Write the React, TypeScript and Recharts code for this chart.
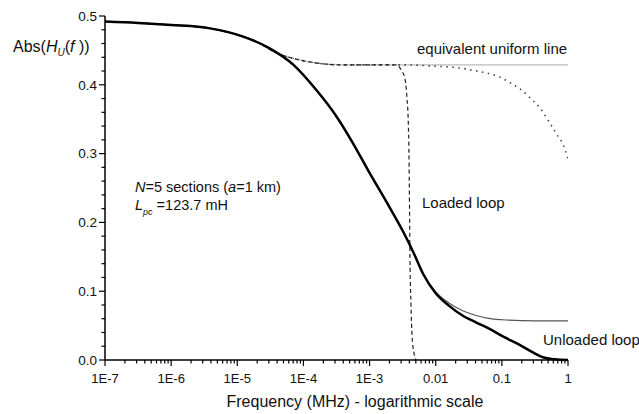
import React from 'react';
import { LineChart, Line, XAxis, YAxis } from 'recharts';

const FONT = '"Liberation Sans", Arial, Helvetica, sans-serif';

// axis ticks
const xMajorTicks = [1e-7, 1e-6, 1e-5, 1e-4, 1e-3, 0.01, 0.1, 1];
const xMajorLabels = ['1E-7', '1E-6', '1E-5', '1E-4', '1E-3', '0.01', '0.1', '1'];
const yMajorTicks = [0, 0.1, 0.2, 0.3, 0.4, 0.5];
const yMajorLabels = ['0.0', '0.1', '0.2', '0.3', '0.4', '0.5'];

// thick solid curve (unloaded loop)
const unloadedFreq = [1e-7, 3.16e-7, 1e-6, 3.89e-6, 1.23e-5, 3.09e-5, 7.08e-5, 1.58e-4, 3.16e-4, 5.62e-4, 1e-3, 1.82e-3, 3.24e-3, 4.57e-3, 6.46e-3, 1e-2, 1.58e-2, 2.51e-2, 3.98e-2, 6.31e-2, 0.105, 0.186, 0.295, 0.417, 0.631, 1];
const unloadedAbs = [0.492, 0.49, 0.487, 0.482, 0.47, 0.453, 0.429, 0.392, 0.354, 0.315, 0.272, 0.229, 0.186, 0.157, 0.125, 0.097, 0.079, 0.065, 0.055, 0.046, 0.034, 0.022, 0.011, 0.004, 0.001, 0.0];

// thin solid curve (equivalent uniform line of the unloaded loop)
const unloadedUniformFreq = [1e-7, 3.16e-7, 1e-6, 3.89e-6, 1.23e-5, 3.09e-5, 7.08e-5, 1.58e-4, 3.16e-4, 5.62e-4, 1e-3, 1.82e-3, 3.24e-3, 4.57e-3, 6.46e-3, 1e-2, 1.58e-2, 2.51e-2, 3.98e-2, 6.31e-2, 0.126, 0.316, 1];
const unloadedUniformAbs = [0.492, 0.49, 0.487, 0.482, 0.47, 0.453, 0.429, 0.392, 0.354, 0.315, 0.272, 0.229, 0.186, 0.157, 0.125, 0.099, 0.083, 0.072, 0.065, 0.0605, 0.058, 0.057, 0.057];

// dashed curve (loaded loop)
const loadedFreq = [1e-7, 3.16e-7, 1e-6, 3.89e-6, 1.23e-5, 1.74e-5, 3.98e-5, 8.91e-5, 1.78e-4, 3.98e-4, 1e-3, 2.4e-3, 2.69e-3, 2.99e-3, 3.44e-3, 3.68e-3, 3.85e-3, 3.94e-3, 4.02e-3, 4.08e-3, 4.23e-3, 4.39e-3, 4.7e-3, 5.04e-3];
const loadedAbs = [0.492, 0.49, 0.487, 0.482, 0.47, 0.465, 0.446, 0.436, 0.431, 0.429, 0.429, 0.429, 0.428, 0.422, 0.408, 0.38, 0.345, 0.3, 0.22, 0.15, 0.08, 0.035, 0.01, 0.0];

// dense dotted curve (equivalent uniform line)
const uniformFreq = [1e-7, 3.16e-7, 1e-6, 3.89e-6, 1.23e-5, 1.74e-5, 3.98e-5, 8.91e-5, 1.78e-4, 3.98e-4, 1e-3, 1e-2, 0.1, 1];
const uniformAbs = [0.492, 0.49, 0.487, 0.482, 0.47, 0.465, 0.446, 0.436, 0.431, 0.429, 0.429, 0.429, 0.429, 0.429];

// sparse dotted curve
const roundedFreq = [1e-7, 3.16e-7, 1e-6, 3.89e-6, 1.23e-5, 1.74e-5, 3.98e-5, 8.91e-5, 1.78e-4, 3.98e-4, 1e-3, 3.16e-3, 1e-2, 2.51e-2, 4.68e-2, 6.62e-2, 9.38e-2, 0.133, 0.188, 0.267, 0.378, 0.535, 0.675, 0.849, 1];
const roundedAbs = [0.492, 0.49, 0.487, 0.482, 0.47, 0.465, 0.446, 0.436, 0.431, 0.429, 0.429, 0.429, 0.427, 0.424, 0.419, 0.416, 0.411, 0.403, 0.394, 0.381, 0.366, 0.344, 0.328, 0.3125, 0.292];

const toPoints = (freq: number[], abs: number[]) => freq.map((f, i) => ({ f, v: abs[i] }));

const xTicks: number[] = [];
xMajorTicks.forEach((t, i) => {
  xTicks.push(t);
  if (i < xMajorTicks.length - 1) {
    for (let m = 2; m <= 9; m++) xTicks.push(t * m);
  }
});

const yTicks: number[] = [];
yMajorTicks.forEach((t, i) => {
  yTicks.push(t);
  if (i < yMajorTicks.length - 1) {
    for (let k = 1; k < 5; k++) yTicks.push(Math.round((t + k * 0.02) * 1000) / 1000);
  }
});

const XTick = (props: any) => {
  const { x, y, payload } = props;
  const idx = xMajorTicks.findIndex((t) => Math.abs(Math.log10(t) - Math.log10(payload.value)) < 1e-6);
  const major = idx >= 0;
  return (
    <g>
      <line x1={x} x2={x} y1={y} y2={y + (major ? 6 : 3.5)} stroke="#000" strokeWidth={1.2} />
      {major && (
        <text x={x} y={y + 22.5} textAnchor="middle" fontSize={13} fontFamily={FONT} fill="#111">
          {xMajorLabels[idx]}
        </text>
      )}
    </g>
  );
};

const YTick = (props: any) => {
  const { x, y, payload } = props;
  const idx = yMajorTicks.findIndex((t) => Math.abs(t - payload.value) < 1e-9);
  const major = idx >= 0;
  return (
    <g>
      <line x1={x} x2={x - (major ? 6 : 3.5)} y1={y} y2={y} stroke="#000" strokeWidth={1.2} />
      {major && (
        <text x={x - 8} y={y + 4.7} textAnchor="end" fontSize={13.5} fontFamily={FONT} fill="#111">
          {yMajorLabels[idx]}
        </text>
      )}
    </g>
  );
};

export default function App() {
  return (
    <div style={{ position: 'absolute', left: 0, top: 0, width: 639, height: 414, background: '#fff' }}>
      <LineChart width={639} height={414} margin={{ top: 16, right: 71, bottom: 0, left: 0 }}>
        <XAxis
          type="number"
          dataKey="f"
          scale="log"
          domain={[1e-7, 1]}
          allowDataOverflow
          ticks={xTicks}
          interval={0}
          tick={<XTick />}
          tickLine={false}
          tickSize={0}
          tickMargin={0}
          height={54}
          axisLine={{ stroke: '#000', strokeWidth: 1.5 }}
        />
        <YAxis
          type="number"
          dataKey="v"
          domain={[0, 0.5]}
          ticks={yTicks}
          interval={0}
          tick={<YTick />}
          tickLine={false}
          tickSize={0}
          tickMargin={0}
          width={105}
          axisLine={{ stroke: '#000', strokeWidth: 1.5 }}
        />
        <Line data={toPoints(uniformFreq, uniformAbs)} dataKey="v" type="monotone" stroke="#777" strokeWidth={1.2} strokeDasharray="1 1" dot={false} isAnimationActive={false} />
        <Line data={toPoints(roundedFreq, roundedAbs)} dataKey="v" type="monotone" stroke="#444" strokeWidth={1.6} strokeDasharray="1.5 4.5" dot={false} isAnimationActive={false} />
        <Line data={toPoints(loadedFreq, loadedAbs)} dataKey="v" type="monotone" stroke="#222" strokeWidth={1.2} strokeDasharray="4 3" dot={false} isAnimationActive={false} />
        <Line data={toPoints(unloadedUniformFreq, unloadedUniformAbs)} dataKey="v" type="monotone" stroke="#555" strokeWidth={1.2} dot={false} isAnimationActive={false} />
        <Line data={toPoints(unloadedFreq, unloadedAbs)} dataKey="v" type="monotone" stroke="#000" strokeWidth={2.5} dot={false} isAnimationActive={false} />
      </LineChart>
      <svg width={639} height={414} style={{ position: 'absolute', left: 0, top: 0, pointerEvents: 'none' }} fontFamily={FONT} fill="#111">
        <text x={13} y={52} fontSize={16}>
          Abs(<tspan fontStyle="italic">H</tspan>
          <tspan fontStyle="italic" fontSize={10} dy={4}>U</tspan>
          <tspan dy={-4}>(</tspan>
          <tspan fontStyle="italic">f</tspan> ))
        </text>
        <text x={355} y={406.5} fontSize={16} textAnchor="middle">Frequency (MHz) - logarithmic scale</text>
        <text x={417} y={53.5} fontSize={15}>equivalent uniform line</text>
        <text x={422} y={208} fontSize={15}>Loaded loop</text>
        <text x={543} y={344.5} fontSize={15}>Unloaded loop</text>
        <text x={135} y={191.5} fontSize={14.5}>
          <tspan fontStyle="italic">N</tspan>=5 sections (<tspan fontStyle="italic">a</tspan>=1 km)
        </text>
        <text x={135} y={210} fontSize={14.5}>
          <tspan fontStyle="italic">L</tspan>
          <tspan fontStyle="italic" fontSize={9} dy={5}>pc</tspan>
          <tspan dy={-5}> =123.7 mH</tspan>
        </text>
      </svg>
    </div>
  );
}
